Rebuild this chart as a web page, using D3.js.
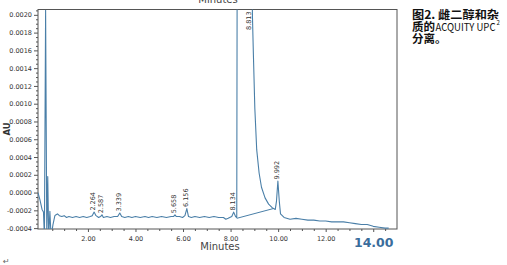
<!DOCTYPE html>
<html><head><meta charset="utf-8">
<script src="https://cdn.jsdelivr.net/npm/d3@7"></script>
<style>
html,body{margin:0;padding:0;background:#fff;}
svg{display:block;}
</style></head>
<body>
<script>
// ---- data ----
const times = [-0.10,-0.02,0.07,0.13,0.17,0.22,0.27,0.31,0.35,0.40,0.45,0.53,0.61,0.66,0.72,0.80,0.90,1.00,1.10,1.20,1.35,1.50,1.65,1.80,1.95,2.10,2.18,2.26,2.34,2.45,2.53,2.59,2.65,2.80,2.95,3.10,3.25,3.34,3.42,3.55,3.70,3.85,4.00,4.20,4.40,4.55,4.70,4.90,5.10,5.30,5.50,5.60,5.66,5.72,5.85,5.98,6.08,6.16,6.23,6.35,6.50,6.70,6.90,7.10,7.30,7.50,7.70,7.80,7.90,8.05,8.13,8.21,8.26,8.28,8.88,8.92,8.96,9.02,9.10,9.20,9.30,9.45,9.60,9.75,9.88,9.93,9.99,10.05,10.10,10.25,10.50,10.75,11.00,11.25,11.50,11.75,12.00,12.25,12.50,12.75,13.00,13.25,13.50,13.75,14.00,14.25,14.50,14.65];
const signal = [0.00000,-0.00008,-0.00019,-0.00022,-0.00050,0.00205,-0.00050,0.00018,-0.00050,-0.00021,-0.00050,-0.00036,-0.00026,-0.00025,-0.00024,-0.00026,-0.00027,-0.00026,-0.00028,-0.00027,-0.00028,-0.00027,-0.00028,-0.00027,-0.00028,-0.00027,-0.00026,-0.00022,-0.00026,-0.00028,-0.00027,-0.00025,-0.00028,-0.00027,-0.00028,-0.00027,-0.00027,-0.00023,-0.00027,-0.00028,-0.00027,-0.00028,-0.00027,-0.00028,-0.00027,-0.00028,-0.00027,-0.00028,-0.00027,-0.00028,-0.00027,-0.00027,-0.00025,-0.00027,-0.00027,-0.00028,-0.00026,-0.00018,-0.00027,-0.00028,-0.00027,-0.00028,-0.00027,-0.00028,-0.00027,-0.00028,-0.00028,-0.00030,-0.00029,-0.00027,-0.00022,-0.00027,-0.00028,0.00300,0.00300,0.00198,0.00155,0.00095,0.00048,0.00022,0.00006,-0.00006,-0.00013,-0.00017,-0.00019,-0.00010,0.00013,-0.00010,-0.00024,-0.00028,-0.00030,-0.00029,-0.00030,-0.00031,-0.00031,-0.00032,-0.00032,-0.00033,-0.00033,-0.00033,-0.00034,-0.00035,-0.00036,-0.00036,-0.00038,-0.00039,-0.00040,-0.00040];

const baselineTimes = [8.26, 9.80];
const baselineValues = [-0.00029, -0.00018];

const peakLabels = ["2.264","2.587","3.339","5.658","6.156","8.134","8.813","9.992"];
const peakTimes  = [2.264, 2.587, 3.339, 5.658, 6.156, 8.134, 8.813, 9.992];
const peakApex   = [-0.00022,-0.00025,-0.00023,-0.00025,-0.00018,-0.00022,0.00300,0.00013];

const xMajorTicks = [2,4,6,8,10,12,14];
const xTickLabels = ["2.00","4.00","6.00","8.00","10.00","12.00","14.00"];
const xMinorTicks = [0.5,1,1.5,2.5,3,3.5,4.5,5,5.5,6.5,7,7.5,8.5,9,9.5,10.5,11,11.5,12.5,13,13.5,14.5];
const yMajorTicks = [-0.0004,-0.0002,0.0000,0.0002,0.0004,0.0006,0.0008,0.0010,0.0012,0.0014,0.0016,0.0018,0.0020];
const yTickLabels = ["-0.0004","-0.0002","0.0000","0.0002","0.0004","0.0006","0.0008","0.0010","0.0012","0.0014","0.0016","0.0018","0.0020"];
const yMinorTicks = [-0.00035,-0.0003,-0.00025,-0.00015,-0.0001,-0.00005,0.00005,0.0001,0.00015,0.00025,0.0003,0.00035,0.00045,0.0005,0.00055,0.00065,0.0007,0.00075,0.00085,0.0009,0.00095,0.00105,0.0011,0.00115,0.00125,0.0013,0.00135,0.00145,0.0015,0.00155,0.00165,0.0017,0.00175,0.00185,0.0019,0.00195,0.00205];

const captionLine1 = "图2. 雌二醇和杂";
const captionLine2a = "质的";
const captionLine2b = "ACQUITY UPC";
const captionSup = "2";
const captionLine3 = "分离。";

// ---- drawing ----
const W = 507, H = 265;
const svg = d3.select("body").append("svg").attr("width", W).attr("height", H);

const x = d3.scaleLinear().domain([-0.1, 15]).range([38, 397]);
const y = d3.scaleLinear().domain([-0.00041, 0.00206]).range([229, 9.5]);

const tickFont = "DejaVu Sans, Verdana, sans-serif";

svg.append("clipPath").attr("id","plotclip").append("rect")
  .attr("x", 38).attr("y", 9.5).attr("width", 359).attr("height", 219.5);

// top cut-off "Minutes"
svg.append("text").attr("x", 218).attr("y", 2.5).attr("text-anchor","middle")
  .attr("font-family", tickFont).attr("font-size", 10).attr("fill","#444").text("Minutes");

// frame
svg.append("rect").attr("x", 38).attr("y", 9.5).attr("width", 359).attr("height", 219.5)
  .attr("fill","none").attr("stroke","#555").attr("stroke-width",1);

// y axis
const yMinor = svg.append("g").attr("transform","translate(38,0)")
  .call(d3.axisLeft(y).tickValues(yMinorTicks).tickSize(2).tickFormat(""));
const yMajor = svg.append("g").attr("transform","translate(38,0)")
  .call(d3.axisLeft(y).tickValues(yMajorTicks).tickSize(4).tickPadding(2)
    .tickFormat((d,i) => yTickLabels[i]));
[yMinor, yMajor].forEach(g => {
  g.select(".domain").remove();
  g.selectAll("line").attr("stroke","#555");
});
yMajor.selectAll("text").attr("font-family", tickFont).attr("font-size", 6.5).attr("fill","#333");

// x axis
const xMinor = svg.append("g").attr("transform","translate(0,229)")
  .call(d3.axisBottom(x).tickValues(xMinorTicks).tickSize(2).tickFormat(""));
const xMajor = svg.append("g").attr("transform","translate(0,229)")
  .call(d3.axisBottom(x).tickValues(xMajorTicks).tickSize(3).tickPadding(4)
    .tickFormat((d,i) => xTickLabels[i]));
[xMinor, xMajor].forEach(g => {
  g.select(".domain").remove();
  g.selectAll("line").attr("stroke","#555");
});
xMajor.selectAll("text").attr("font-family", tickFont).attr("font-size", 6.5).attr("fill","#333");
xMajor.selectAll(".tick").filter(d => d === 14).select("text")
  .attr("font-size", 12.5).attr("font-weight","bold").attr("fill","#3a6d9c").attr("dy","0.9em");

// axis titles
svg.append("text").attr("x", 220).attr("y", 250).attr("text-anchor","middle")
  .attr("font-family", tickFont).attr("font-size", 10).attr("fill","#444").text("Minutes");
svg.append("text").attr("transform","translate(10,129) rotate(-90)").attr("text-anchor","middle")
  .attr("font-family", tickFont).attr("font-size", 8.5).attr("font-weight","bold").attr("fill","#333").text("AU");

// chromatogram
const pts = times.map((t,i) => [t, signal[i]]);
const line = d3.line().x(d => x(d[0])).y(d => y(d[1]));
const plot = svg.append("g").attr("clip-path","url(#plotclip)");
plot.append("path").datum(pts).attr("d", line)
  .attr("fill","none").attr("stroke","#4a7fa8").attr("stroke-width",1.1).attr("stroke-linejoin","round");
plot.append("path").datum(baselineTimes.map((t,i)=>[t, baselineValues[i]])).attr("d", line)
  .attr("fill","none").attr("stroke","#4a7fa8").attr("stroke-width",1);

// peak labels
peakLabels.forEach((lab, i) => {
  const px = x(peakTimes[i]) - 1.5;
  const py = Math.max(y(peakApex[i]) - 1.5, 30);
  svg.append("text")
    .attr("transform", `translate(${px},${py}) rotate(-90)`)
    .attr("dy","0.35em")
    .attr("font-family", tickFont).attr("font-size", 6.5).attr("fill","#333")
    .text(lab);
});

// caption
const capFont = "Noto Sans CJK SC, sans-serif";
const capG = svg.append("g").attr("font-family", capFont).attr("font-weight","bold")
  .attr("font-size", 11.5).attr("fill","#111");
capG.append("text").attr("x", 412).attr("y", 19)
  .attr("textLength", 87).attr("lengthAdjust","spacingAndGlyphs").text(captionLine1);
capG.append("text").attr("x", 412).attr("y", 31).text(captionLine2a);
capG.append("text").attr("x", 435.5).attr("y", 31)
  .attr("textLength", 60).attr("lengthAdjust","spacingAndGlyphs")
  .attr("font-weight","normal").attr("font-size", 11).text(captionLine2b);
capG.append("text").attr("x", 496.5).attr("y", 25).attr("font-size", 6).attr("font-weight","normal").text(captionSup);
capG.append("text").attr("x", 412).attr("y", 43).text(captionLine3);

// stray mark bottom-left
svg.append("text").attr("x", 3).attr("y", 264).attr("font-family", tickFont)
  .attr("font-size", 8).attr("fill","#666").text("↵");
</script>
</body></html>
